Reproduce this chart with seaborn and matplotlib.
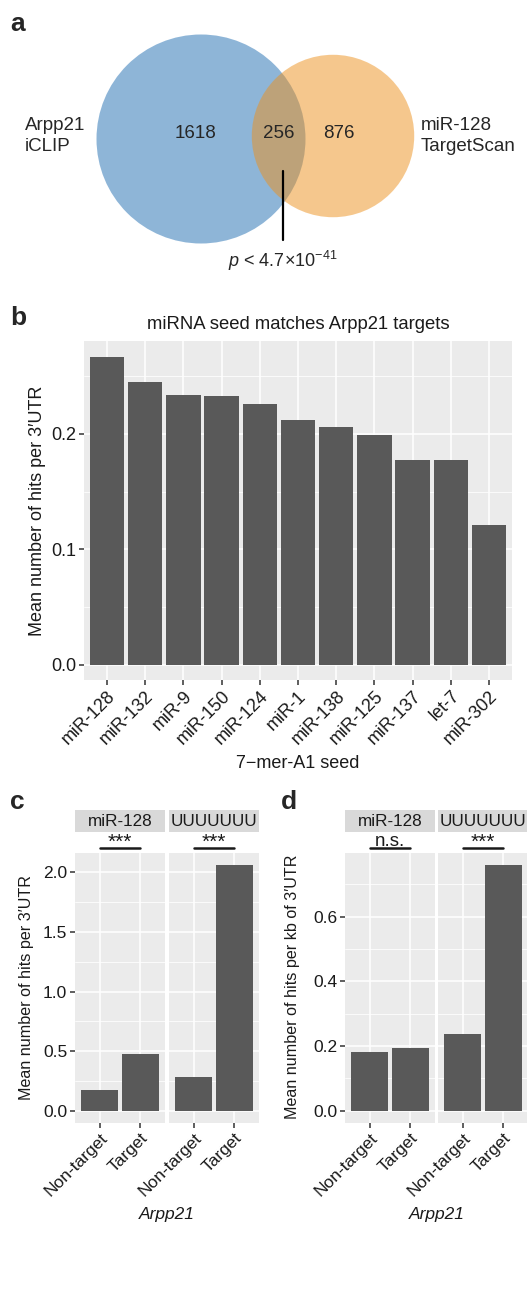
import numpy as np
import matplotlib
matplotlib.use("Agg")
import matplotlib.pyplot as plt
import matplotlib.transforms as mtransforms
from matplotlib.patches import Circle
from matplotlib.ticker import MultipleLocator, FormatStrFormatter
import seaborn as sns

# ---- data ----
# panel a (venn)
venn_names = ["Arpp21\niCLIP", "miR-128\nTargetScan"]
venn_only = [1618, 876]
venn_both = 256
venn_pval = r"$p$ < 4.7×10$^{-41}$"

# panel b
seeds = ["miR-128", "miR-132", "miR-9", "miR-150", "miR-124", "miR-1",
         "miR-138", "miR-125", "miR-137", "let-7", "miR-302"]
seed_hits = [0.267, 0.245, 0.234, 0.233, 0.226, 0.212, 0.206, 0.199, 0.177, 0.177, 0.121]

# panels c and d
facets = ["miR-128", "UUUUUUU"]
groups = ["Non-target", "Target"]
hits_utr_mir128 = [0.176, 0.477]
hits_utr_polyu = [0.280, 2.060]
hits_kb_mir128 = [0.183, 0.193]
hits_kb_polyu = [0.236, 0.759]
sig_c = ["***", "***"]
sig_d = ["n.s.", "***"]

# ---- style ----
sns.set_theme(style="white")
plt.rcParams["font.family"] = ["Liberation Sans", "DejaVu Sans"]
plt.rcParams["mathtext.fontset"] = "custom"
plt.rcParams["mathtext.rm"] = "Liberation Sans"
plt.rcParams["mathtext.it"] = "Liberation Sans:italic"

W, H = 527, 1293
fig = plt.figure(figsize=(W / 100, H / 100), dpi=100)
BAR = "#595959"
PANEL_BG = "#EBEBEB"
STRIP_BG = "#D9D9D9"
TXT = "#1a1a1a"


def box(x0, y0, x1, y1):
    return [x0 / W, 1 - y1 / H, (x1 - x0) / W, (y1 - y0) / H]


def gg(ax, step, fs):
    ax.set_facecolor(PANEL_BG)
    for s in ax.spines.values():
        s.set_visible(False)
    ax.yaxis.set_major_locator(MultipleLocator(step))
    ax.yaxis.set_minor_locator(MultipleLocator(step / 2))
    ax.grid(True, which="major", color="white", lw=1.1)
    ax.grid(True, which="minor", axis="y", color="white", lw=0.55)
    ax.set_axisbelow(True)
    ax.tick_params(which="major", left=True, bottom=True, length=3.5, width=1.1,
                   color="#333333", labelsize=fs, labelcolor=TXT, pad=2)
    ax.tick_params(which="minor", left=False, bottom=False, length=0)
    for p in ax.patches:
        p.set_edgecolor("none")
        p.set_linewidth(0)


def letter(x, y, s):
    fig.text(x / W, 1 - y / H, s, fontsize=19, fontweight="bold", va="center", ha="left")


# ---- panel a: venn ----
axa = fig.add_axes([0, 1 - 300 / H, 1, 300 / H])
axa.set_xlim(0, W)
axa.set_ylim(300, 0)
axa.axis("off")
k = 104.5 / np.sqrt(venn_only[0] + venn_both)
r_blue = k * np.sqrt(venn_only[0] + venn_both)
r_orange = k * np.sqrt(venn_only[1] + venn_both)
cb = (201, 139)
co = (333, 136)
axa.add_patch(Circle(cb, r_blue, color="#1f6db1", alpha=0.5, lw=0))
axa.add_patch(Circle(co, r_orange, color="#ed911d", alpha=0.5, lw=0))
axa.text(196, 133, f"{venn_only[0]}", fontsize=13.5, ha="center", va="center")
axa.text((co[0] - r_orange + cb[0] + r_blue) / 2, 133, f"{venn_both}",
         fontsize=13.5, ha="center", va="center")
axa.text(339, 133, f"{venn_only[1]}", fontsize=13.5, ha="center", va="center")
axa.text(25, 136, venn_names[0], fontsize=13.5, ha="left", va="center", linespacing=1.3)
axa.text(421, 136, venn_names[1], fontsize=13.5, ha="left", va="center", linespacing=1.3)
axa.plot([283, 283], [171, 240], color="black", lw=1.6)
axa.text(283, 261, venn_pval, fontsize=13, ha="center", va="center")
letter(10, 24, "a")

# ---- panel b ----
axb = fig.add_axes(box(84, 341, 512, 680))
sns.barplot(x=seeds, y=seed_hits, color=BAR, saturation=1, width=0.9, ax=axb)
gg(axb, 0.1, 13)
axb.set_xlim(-0.6, len(seeds) - 0.4)
axb.set_ylim(-0.0134, 0.2805)
axb.yaxis.set_major_formatter(FormatStrFormatter("%.1f"))
plt.setp(axb.get_xticklabels(), rotation=45, ha="right", rotation_mode="anchor")
axb.set_ylabel("Mean number of hits per 3′UTR", fontsize=13, labelpad=4, color=TXT)
axb.set_xlabel("7\u2212mer-A1 seed", fontsize=13, labelpad=5, color=TXT)
axb.set_title("miRNA seed matches Arpp21 targets", fontsize=13.3, pad=9, color=TXT)
letter(10, 318, "b")


# ---- panels c, d ----
def facet_panel(x0s, vals, sigs, ymin, ymax, step, ylabel, ylab_x, letter_xy, let):
    for i, (x0, v, sg) in enumerate(zip(x0s, vals, sigs)):
        ax = fig.add_axes(box(x0, 853, x0 + 90, 1123))
        sns.barplot(x=groups, y=v, color=BAR, saturation=1, width=0.9, ax=ax)
        gg(ax, step, 12.5)
        ax.set_xlim(-0.6, 1.6)
        ax.set_ylim(ymin, ymax)
        ax.yaxis.set_major_formatter(FormatStrFormatter("%.1f"))
        plt.setp(ax.get_xticklabels(), rotation=45, ha="right", rotation_mode="anchor")
        ax.set_xlabel("")
        ax.set_ylabel("")
        if i > 0:
            ax.tick_params(axis="y", left=False, labelleft=False)
        # facet strip
        st = fig.add_axes(box(x0, 810, x0 + 90, 832))
        st.set_facecolor(STRIP_BG)
        st.set_xticks([])
        st.set_yticks([])
        for s in st.spines.values():
            s.set_visible(False)
        st.text(0.5, 0.5, facets[i], fontsize=12.3, ha="center", va="center", color=TXT)
        # significance bar
        tr = mtransforms.blended_transform_factory(ax.transData, ax.transAxes)
        ly = 1 + 5 / 270
        ax.plot([0, 1], [ly, ly], color=TXT, lw=1.8, transform=tr, clip_on=False)
        fs = 15 if sg == "***" else 13.5
        off = 0 if sg == "***" else 1.5
        ax.text(0.5, ly + off / 270, sg, fontsize=fs, ha="center", va="baseline",
                transform=tr, color=TXT)
    fig.text((x0s[0] + x0s[1] + 90) / 2 / W, 1 - 1215 / H, "Arpp21", fontsize=12.5,
             style="italic", ha="center", va="center", color=TXT)
    fig.text(ylab_x / W, 1 - 987 / H, ylabel, fontsize=11.6, rotation=90,
             ha="center", va="center", color=TXT)
    letter(letter_xy[0], letter_xy[1], let)


facet_panel([75, 169], [hits_utr_mir128, hits_utr_polyu], sig_c, -0.103, 2.163, 0.5,
            "Mean number of hits per 3′UTR", 27, (10, 802), "c")
facet_panel([345, 438], [hits_kb_mir128, hits_kb_polyu], sig_d, -0.038, 0.797, 0.2,
            "Mean number of hits per kb of 3′UTR", 292, (281, 802), "d")

fig.savefig("out.png", dpi=100)
